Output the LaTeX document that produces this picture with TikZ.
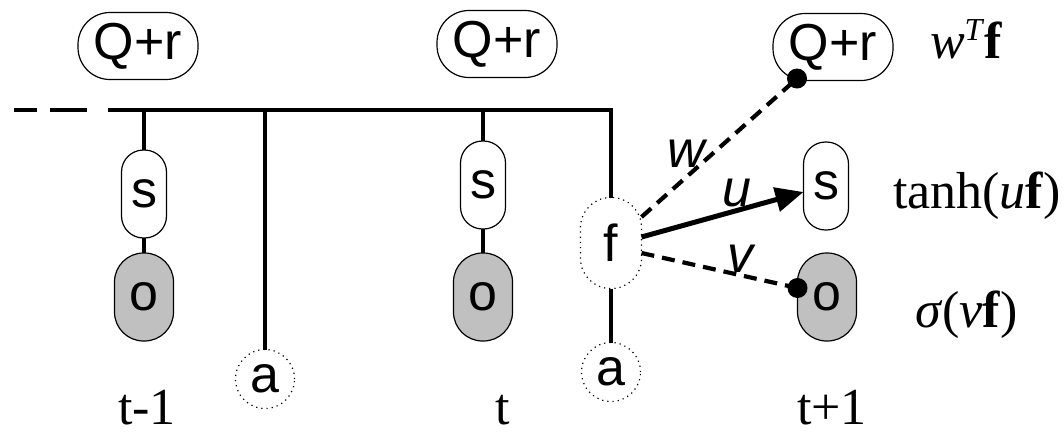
\documentclass[tikz,border=0pt]{standalone}
\usepackage{fontspec}
\setmainfont{Liberation Serif}
\newfontfamily\arialfont{Liberation Sans}
\usetikzlibrary{arrows.meta}
\definecolor{obsgray}{RGB}{192,192,192}
\begin{document}
\begin{tikzpicture}[x=0.5pt,y=-0.5pt,
  every node/.style={inner sep=0pt,outer sep=0pt},
  sanslbl/.style={font=\arialfont\fontsize{26}{30}\selectfont},
  seriflbl/.style={font=\fontsize{26}{30}\selectfont},
  wlbl/.style={font=\arialfont\itshape\fontsize{26}{30}\selectfont},
  qr/.style={draw,line width=0.6pt,sanslbl,fill=white,minimum width=60pt,minimum height=33.5pt,rounded corners=16pt},
  sbox/.style={draw,line width=0.6pt,sanslbl,fill=white,minimum width=22.5pt,minimum height=44pt,rounded corners=11pt},
  obox/.style={draw,line width=0.6pt,sanslbl,fill=obsgray,minimum width=29.5pt,minimum height=44pt,rounded corners=14.5pt},
  fbox/.style={draw,line width=0.6pt,dash pattern=on 0.6pt off 2pt,sanslbl,minimum width=30.5pt,minimum height=45.5pt,rounded corners=15pt},
  abox/.style={circle,draw,line width=0.6pt,dash pattern=on 0.6pt off 2pt,sanslbl,minimum size=29.5pt},
  bus/.style={line width=2.2pt},
  wire/.style={line width=2.1pt,dash pattern=on 6.5pt off 4pt},
  arrowline/.style={line width=2.5pt,-{Triangle[length=14pt,width=12pt]}}
]
\useasboundingbox (0,0) rectangle (1064,434);

% time slice t-1
\node[qr]   (q1) at (138,46)  {Q+r};
\node[sbox] (s1) at (144,194) {s};
\node[obox] (o1) at (144,297) {o};
\node[abox] (a1) at (265,379) {a};
\node[seriflbl,anchor=base] (l1) at (147,424) {t-1};

% time slice t
\node[qr]   (q2) at (497,44)  {Q+r};
\node[sbox] (s2) at (483,185) {s};
\node[obox] (o2) at (483,297) {o};
\node[fbox] (f)  at (611,243) {f};
\node[abox] (a2) at (611,372) {a};
\node[seriflbl,anchor=base] (l2) at (503,424) {t};

% time slice t+1
\node[qr]   (q3) at (833,47)  {Q+r};
\node[sbox] (s3) at (826,186) {s};
\node[obox] (o3) at (827,297) {o};
\node[seriflbl,anchor=base] (l3) at (832,424) {t+1};

% output functions
\node[seriflbl,anchor=base west] (fq) at (930,58)  {\textit{w}\raisebox{9pt}{\fontsize{16}{18}\selectfont\textit{T}}\textbf{f}};
\node[seriflbl,anchor=base west] (fs) at (893,208) {tanh(\textit{u}\textbf{f})};
\node[seriflbl,anchor=base west] (fo) at (915,327) {\textit{σ}(\textit{v}\textbf{f})};

% history bus
\coordinate (busL) at (14,110);
\coordinate (busM) at (142,110);
\coordinate (busR) at (611,110);
\draw[bus,dash pattern=on 11.5pt off 6.5pt on 18.5pt off 10.5pt on 40pt off 0pt] (busL) -- (busM);
\draw[bus] (busM) -- (busR) -- (f.north);
\draw[bus] (s1.north) -- (s1.north |- busM);
\draw[bus] (s1.south) -- (o1.north);
\draw[bus] (a1.north) -- (a1.north |- busM);
\draw[bus] (s2.north) -- (s2.north |- busR);
\draw[bus] (s2.south) -- (o2.north);
\draw[bus] (f.south) -- (a2.north);

% feature projections
\coordinate (fw) at ([yshift=13pt]f.east);
\coordinate (fu) at ([yshift=3pt]f.east);
\coordinate (fv) at ([yshift=-5pt]f.east);
\coordinate (dq) at ([xshift=12pt,yshift=1pt]q3.south west);
\coordinate (ds) at ([yshift=-3pt]s3.west);
\coordinate (do) at ([yshift=4.5pt]o3.west);
\draw[wire] (fw) -- (dq);
\draw[wire] (fv) -- (do);
\draw[arrowline] (fu) -- (ds);
\fill (dq) circle (5pt);
\fill (do) circle (5pt);

\node[wlbl,anchor=base west] (lw) at (667,167) {w};
\node[wlbl,anchor=base west] (lu) at (722,206) {u};
\node[wlbl,anchor=base west] (lv) at (727,272) {v};
\end{tikzpicture}
\end{document}
